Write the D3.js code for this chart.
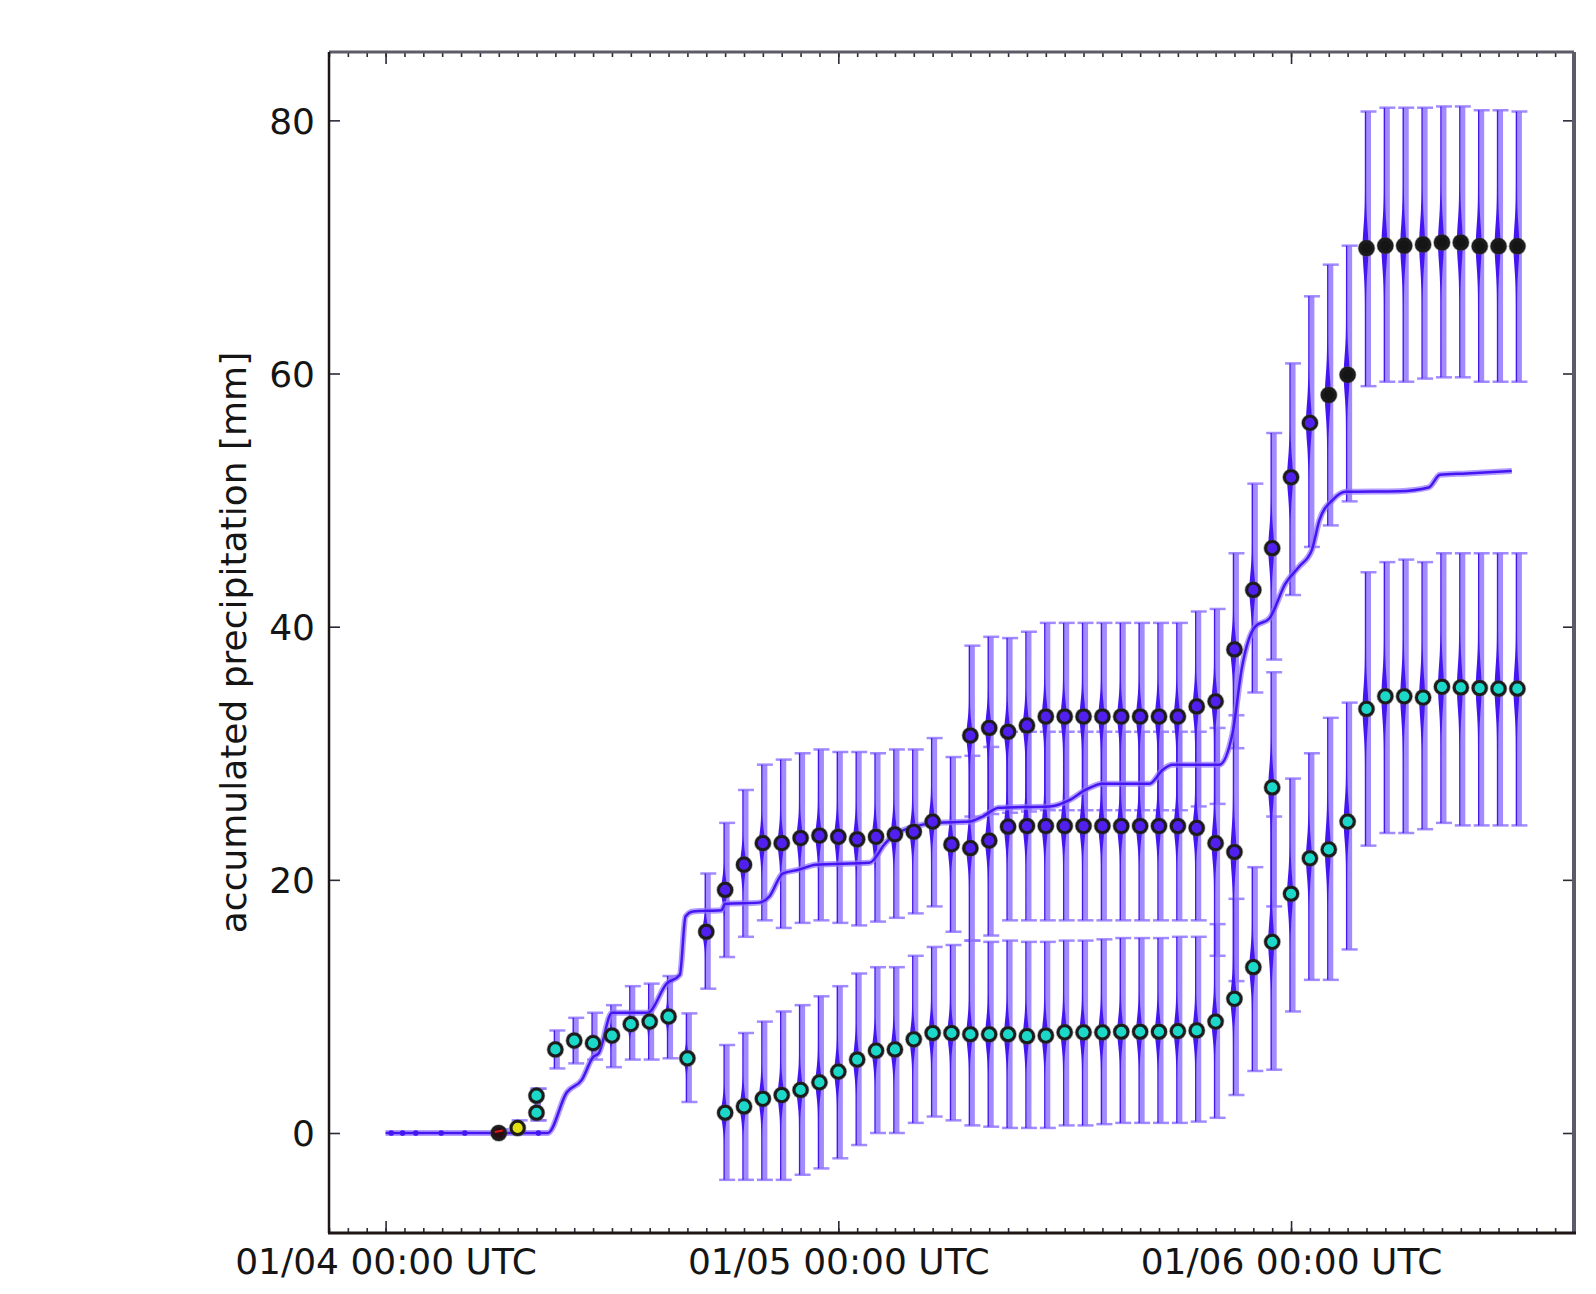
<!DOCTYPE html>
<html>
<head>
<meta charset="utf-8">
<script src="https://cdn.jsdelivr.net/npm/d3@7"></script>
<style>
  body { margin: 0; background: #fff; }
  svg text { font-family: "DejaVu Sans", sans-serif; fill: #151515; }
</style>
</head>
<body>
<svg id="chart" width="1596" height="1294"></svg>
<script>
// ---- data (hours after 01/04 00:00 UTC, precipitation in mm) ----

// lower cluster: first the single early cluster, later the low branch
var lowHours  = [6, 7, 8, 9, 10, 11, 12, 13, 14, 15, 16,
                 18, 19, 20, 21, 22, 23, 24, 25, 26, 27, 28, 29, 30, 31, 32, 33, 34, 35, 36, 37, 38, 39,
                 40, 41, 42, 43, 44, 45, 46, 47, 48, 49, 50, 51, 52, 53, 54, 55, 56, 57, 58, 59, 60];
var lowValues = [0, 0.4, 1.6, 6.6, 7.3, 7.1, 7.7, 8.6, 8.8, 9.2, 5.9,
                 1.6, 2.1, 2.7, 3.0, 3.4, 4.0, 4.85, 5.8, 6.5, 6.6, 7.4, 7.9, 7.9, 7.8, 7.8, 7.8, 7.65, 7.7, 7.95, 7.95, 7.95, 8.0,
                 8.0, 8.0, 8.05, 8.1, 8.8, 10.6, 13.1, 15.1, 18.9, 21.7, 22.4, 24.6, 33.5, 34.5, 34.5, 34.4, 35.25, 35.2, 35.15, 35.1, 35.1];
var lowMin    = [0, 0, 1.0, 5.1, 5.5, 5.8, 5.2, 5.8, 5.8, 5.9, 2.45,
                 -3.7, -3.7, -3.7, -3.7, -3.3, -2.8, -2.0, -0.95, 0, 0, 0.8, 1.3, 1.0, 0.6, 0.5, 0.4, 0.4, 0.4, 0.6, 0.6, 0.7, 0.8,
                 0.8, 0.8, 0.8, 0.9, 1.2, 3.0, 4.9, 5.0, 9.6, 12.1, 12.1, 14.5, 22.7, 23.7, 23.7, 24.0, 24.5, 24.3, 24.3, 24.3, 24.3];
var lowMax    = [0.3, 1.0, 3.5, 8.1, 9.1, 9.5, 10.1, 11.6, 11.8, 12.4, 9.45,
                 6.95, 7.9, 8.8, 9.6, 10.1, 10.8, 11.6, 12.6, 13.1, 13.1, 14.0, 14.7, 14.85, 15.2, 15.1, 15.2, 15.1, 15.1, 15.2, 15.2, 15.3, 15.4,
                 15.4, 15.4, 15.5, 15.5, 16.5, 18.5, 21.0, 25.0, 28.0, 30.0, 32.8, 34.0, 44.3, 45.1, 45.3, 45.1, 45.8, 45.8, 45.8, 45.8, 45.8];
var lowColor  = ["red", "yellow", "cyan", "cyan", "cyan", "cyan", "cyan", "cyan", "cyan", "cyan", "cyan",
                 "cyan", "cyan", "cyan", "cyan", "cyan", "cyan", "cyan", "cyan", "cyan", "cyan", "cyan", "cyan", "cyan", "cyan", "cyan", "cyan", "cyan", "cyan", "cyan", "cyan", "cyan", "cyan",
                 "cyan", "cyan", "cyan", "cyan", "cyan", "cyan", "cyan", "cyan", "cyan", "cyan", "cyan", "cyan", "cyan", "cyan", "cyan", "cyan", "cyan", "cyan", "cyan", "cyan", "cyan"];

// middle cluster (~23 mm plateau)
var midHours  = [8, 17, 18, 19, 20, 21, 22, 23, 24, 25, 26, 27, 28, 29, 30, 31, 32, 33, 34, 35, 36, 37, 38, 39, 40, 41, 42, 43, 44, 45, 47];
var midValues = [2.95, 15.9, 19.2, 21.2, 22.9, 22.9, 23.3, 23.5, 23.4, 23.2, 23.4, 23.6, 23.8, 24.6, 22.8, 22.5, 23.1, 24.2, 24.25, 24.25,
                 24.25, 24.25, 24.25, 24.25, 24.25, 24.25, 24.25, 24.1, 22.9, 22.2, 27.3];
var midMin    = [1.0, 11.4, 13.9, 15.5, 16.8, 16.2, 16.6, 16.8, 16.6, 16.4, 16.7, 17.0, 17.35, 17.9, 15.9, 15.2, 15.6, 16.8, 16.8, 16.8,
                 16.8, 16.8, 16.8, 16.8, 16.8, 16.8, 16.8, 16.8, 14.0, 12.0, 17.9];
var midMax    = [3.5, 20.5, 24.5, 27.1, 29.1, 29.5, 30.0, 30.3, 30.1, 30.1, 30.0, 30.3, 30.3, 31.2, 29.7, 29.8, 30.5, 31.7, 31.7, 31.7,
                 31.7, 31.7, 31.7, 31.7, 31.7, 31.7, 31.7, 31.7, 32.0, 33.0, 36.4];
var midColor  = ["cyan", "purple", "purple", "purple", "purple", "purple", "purple", "purple", "purple", "purple", "purple", "purple",
                 "purple", "purple", "purple", "purple", "purple", "purple", "purple", "purple", "purple", "purple", "purple", "purple",
                 "purple", "purple", "purple", "purple", "purple", "purple", "cyan"];

// upper cluster
var topHours  = [31, 32, 33, 34, 35, 36, 37, 38, 39, 40, 41, 42, 43, 44, 45, 46, 47, 48, 49, 50, 51, 52, 53, 54, 55, 56, 57, 58, 59, 60];
var topValues = [31.4, 32.0, 31.7, 32.2, 32.9, 32.9, 32.9, 32.9, 32.9, 32.9, 32.9, 32.9, 33.7, 34.1, 38.2, 42.9, 46.2, 51.8, 56.1, 58.3,
                 59.9, 69.9, 70.1, 70.1, 70.2, 70.35, 70.35, 70.06, 70.06, 70.06];
var topMin    = [25.0, 25.2, 25.3, 25.4, 25.5, 25.5, 25.5, 25.5, 25.5, 25.5, 25.5, 25.5, 25.8, 26.0, 30.4, 34.8, 37.4, 42.5, 46.3, 48.0,
                 49.9, 59.0, 59.35, 59.35, 59.6, 59.7, 59.7, 59.35, 59.35, 59.35];
var topMax    = [38.5, 39.2, 39.1, 39.6, 40.3, 40.3, 40.3, 40.3, 40.3, 40.3, 40.3, 40.3, 41.2, 41.4, 45.8, 51.3, 55.3, 60.8, 66.1, 68.6,
                 70.1, 80.7, 81.0, 81.0, 81.0, 81.1, 81.1, 80.8, 80.8, 80.7];
var topColor  = ["purple", "purple", "purple", "purple", "purple", "purple", "purple", "purple", "purple", "purple", "purple", "purple",
                 "purple", "purple", "purple", "purple", "purple", "purple", "purple", "black", "black", "black", "black", "black",
                 "black", "black", "black", "black", "black", "black"];

// ensemble mean curve
var meanHours  = [0, 8.6, 9.6, 10.4, 11.0, 11.3, 12.0, 13.9, 14.9, 15.6, 15.9, 16.3, 17.8, 18.0, 19.8, 20.35, 21.05, 21.9, 22.8, 25.65,
                  26.5, 27.1, 29.2, 30.95, 31.65, 32.5, 35.2, 36.25, 37.1, 38.0, 40.5, 41.2, 41.7, 44.2, 44.9, 45.4, 46.1, 46.85,
                  47.7, 48.4, 49.1, 49.5, 50.2, 50.9, 53.7, 55.3, 55.9, 57.3, 59.7];
var meanValues = [0, 0, 3.2, 4.2, 6.0, 6.3, 9.5, 9.5, 11.8, 12.5, 17.1, 17.5, 17.6, 18.1, 18.2, 18.7, 20.5, 20.8, 21.2, 21.35,
                  22.9, 23.7, 24.5, 24.6, 25.0, 25.7, 25.8, 26.3, 27.1, 27.6, 27.6, 28.7, 29.1, 29.1, 31.6, 36.8, 40.0, 40.65,
                  43.4, 44.7, 46.05, 48.4, 50.0, 50.65, 50.7, 51.0, 52.0, 52.1, 52.3];

// dry members drawn as tiny markers on the zero line
var dryHours = [0.3, 0.9, 1.6, 2.95, 4.2, 8.1];

var xTickHours  = [0, 24, 48];
var xTickLabels = ["01/04 00:00 UTC", "01/05 00:00 UTC", "01/06 00:00 UTC"];
var yTicks = [0, 20, 40, 60, 80];
var yLabel = "accumulated precipitation [mm]";

// ---- layout ----
var axL = 329, axR = 1574, axT = 52, axB = 1233;
var svg = d3.select("#chart");

var x = d3.scaleLinear().domain([-3, 63]).range([axL, axR]);
var y = d3.scaleLinear().domain([-7.9, 85.4]).range([axB, axT]);

var LIGHT = "#9275ff", DARK = "#4616f2";
var fills = { cyan: "#1cd8c8", purple: "#5220ee", black: "#151515", yellow: "#e2e010", red: "#2a0c14" };

function series(h, v, lo, hi, c) {
	return h.map(function(d, i) { return { h: d, v: v[i], lo: lo[i], hi: hi[i], c: c[i] }; });
}
var all = series(lowHours, lowValues, lowMin, lowMax, lowColor)
	.concat(series(midHours, midValues, midMin, midMax, midColor))
	.concat(series(topHours, topValues, topMin, topMax, topColor));

var plot = svg.append("g");

// light purple extrema bars with caps
var bars = plot.append("g").attr("stroke", LIGHT).attr("stroke-opacity", 0.85);
all.forEach(function(d) {
	var cx = x(d.h) + 2;
	bars.append("line").attr("x1", cx).attr("x2", cx).attr("y1", y(d.lo)).attr("y2", y(d.hi)).attr("stroke-width", 5);
	[d.lo, d.hi].forEach(function(e) {
		bars.append("line").attr("x1", cx - 8).attr("x2", cx + 8).attr("y1", y(e)).attr("y2", y(e)).attr("stroke-width", 2.5);
	});
});

// dark violin spindles
var area = d3.area().curve(d3.curveBasis)
	.y(function(p) { return y(p.v); })
	.x0(function(p) { return p.cx - p.w; })
	.x1(function(p) { return p.cx + p.w; });

all.forEach(function(d) {
	var sig = Math.max((d.hi - d.lo) / 10, 0.3);
	var pts = d3.range(0, 41).map(function(i) {
		var vv = d.lo + (d.hi - d.lo) * i / 40;
		return { v: vv, cx: x(d.h) - 1, w: 0.7 + 2.3 * Math.exp(-Math.pow((vv - d.v) / sig, 2)) };
	});
	plot.append("path").attr("d", area(pts)).attr("fill", DARK);
});

// mean line with light halo
var line = d3.line().curve(d3.curveMonotoneX)
	.x(function(d, i) { return x(meanHours[i]); })
	.y(function(d) { return y(d); });
plot.append("path").attr("d", line(meanValues)).attr("fill", "none")
	.attr("stroke", LIGHT).attr("stroke-width", 6).attr("stroke-opacity", 0.7);
plot.append("path").attr("d", line(meanValues)).attr("fill", "none")
	.attr("stroke", DARK).attr("stroke-width", 2.5);

plot.selectAll(".dry").data(dryHours).enter().append("circle")
	.attr("cx", function(d) { return x(d); }).attr("cy", y(0)).attr("r", 2.8).attr("fill", DARK);

// cluster dots
var dots = plot.append("g");
dots.selectAll(".halo").data(all).enter().append("circle")
	.attr("cx", function(d) { return x(d.h); }).attr("cy", function(d) { return y(d.v); })
	.attr("r", 8.8).attr("fill", "#5a5a5a").attr("opacity", 0.5);
dots.selectAll(".dot").data(all).enter().append("circle")
	.attr("cx", function(d) { return x(d.h); }).attr("cy", function(d) { return y(d.v); })
	.attr("r", 6.6).attr("fill", function(d) { return fills[d.c]; })
	.attr("stroke", "#1c1c1c").attr("stroke-width", 3);
// red mark inside the first (driest) member dot
dots.selectAll(".redmark").data(all.filter(function(d) { return d.c === "red"; })).enter().append("path")
	.attr("d", function(d) { return "M" + (x(d.h) - 4) + "," + (y(d.v) - 1) + "L" + (x(d.h) + 4) + "," + (y(d.v) - 2.5); })
	.attr("stroke", "#e01818").attr("stroke-width", 2);

// ---- axes (matplotlib style, ticks inside) ----
var axes = svg.append("g");

axes.append("g").attr("transform", "translate(0," + axB + ")")
	.call(d3.axisBottom(x).tickValues(d3.range(-3, 64)).tickSize(-5).tickFormat(""));
axes.append("g").attr("transform", "translate(0," + axT + ")")
	.call(d3.axisTop(x).tickValues(d3.range(-3, 64)).tickSize(-5).tickFormat(""));
var xb = axes.append("g").attr("transform", "translate(0," + axB + ")")
	.call(d3.axisBottom(x).tickValues(xTickHours).tickSize(-12).tickPadding(41)
		.tickFormat(function(d, i) { return xTickLabels[i]; }));
axes.append("g").attr("transform", "translate(0," + axT + ")")
	.call(d3.axisTop(x).tickValues(xTickHours).tickSize(-12).tickFormat(""));
var yl = axes.append("g").attr("transform", "translate(" + axL + ",0)")
	.call(d3.axisLeft(y).tickValues(yTicks).tickSize(-11).tickPadding(14));
axes.append("g").attr("transform", "translate(" + axR + ",0)")
	.call(d3.axisRight(y).tickValues(yTicks).tickSize(-11).tickFormat(""));

axes.selectAll(".domain").remove();
axes.selectAll(".tick line").attr("stroke", "#2a2a3a").attr("stroke-width", 1.6);
axes.selectAll(".tick text").attr("font-size", 36).attr("fill", "#151515")
	.style("font-family", "'DejaVu Sans', sans-serif");
xb.selectAll(".tick text").attr("dy", 0);
yl.selectAll(".tick text").attr("dy", "0.36em");

// frame
axes.append("line").attr("x1", axL).attr("x2", axR).attr("y1", axT).attr("y2", axT)
	.attr("stroke", "#5c5c66").attr("stroke-width", 3);
axes.append("line").attr("x1", axR).attr("x2", axR).attr("y1", axT).attr("y2", axB)
	.attr("stroke", "#5c5c66").attr("stroke-width", 4);
axes.append("line").attr("x1", axL).attr("x2", axL).attr("y1", axT).attr("y2", axB)
	.attr("stroke", "#1e1414").attr("stroke-width", 2.5);
axes.append("line").attr("x1", axL - 1).attr("x2", axR + 2).attr("y1", axB).attr("y2", axB)
	.attr("stroke", "#1e1414").attr("stroke-width", 3);

svg.append("text")
	.attr("transform", "translate(237," + ((axT + axB) / 2) + ") rotate(-90)")
	.attr("text-anchor", "middle").attr("dy", "0.26em")
	.attr("font-size", 36)
	.text(yLabel);
</script>
</body>
</html>
